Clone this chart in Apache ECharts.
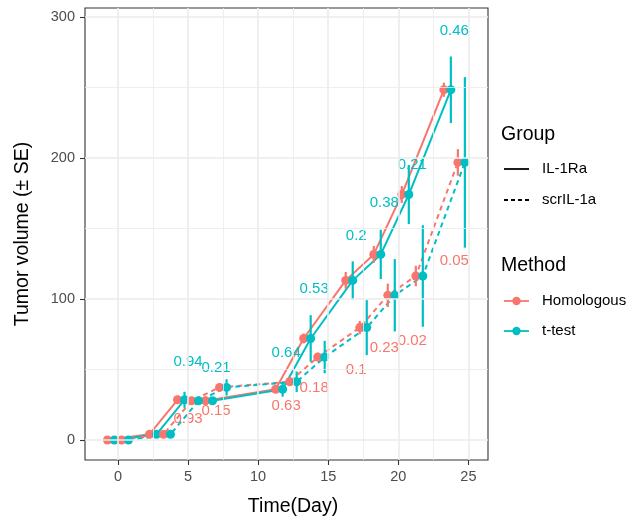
<!DOCTYPE html>
<html><head><meta charset="utf-8">
<script src="https://cdn.jsdelivr.net/npm/echarts@6/dist/echarts.min.js"></script>
<style>html,body{margin:0;padding:0;background:#fff}#c{width:634px;height:522px}</style>
</head><body><div id="c"></div>
<script>
// ---- data ----
const days = [0, 3, 5, 7, 12, 14, 17, 19, 21, 24];
const meanIL1Ra = [0, 4, 28.5, 27.8, 36, 72, 113.2, 131.6, 174.1, 248.4];
const meanScrIL1a = [0, 4, 27.8, 37.3, 41.3, 58.8, 79.7, 102.6, 116.3, 196.9];
const seIL1RaHomologous = [0, 0.5, 3, 2, 2, 3.5, 6, 6, 6, 5];
const seIL1RaTtest = [0, 1, 5.7, 2.5, 5.3, 16.5, 13.5, 17.5, 21, 23.6];
const seScrHomologous = [0, 0.5, 2, 3, 3, 3, 4.7, 8.3, 7.3, 9.4];
const seScrTtest = [0, 2.5, 2, 5.8, 7.3, 11.5, 19.5, 25.7, 36, 60.5];
const pDays = [5, 7, 12, 14, 17, 19, 21, 24];
const pTtest = ['0.94', '0.21', '0.64', '0.53', '0.2', '0.38', '0.21', '0.46'];
const pTtestY = [55.2, 51, 62, 107.3, 145, 168.2, 195.3, 290.3];
const pHomologous = ['0.93', '0.15', '0.63', '0.18', '0.1', '0.23', '0.02', '0.05'];
const pHomologousY = [14.9, 20.7, 24.3, 37.3, 49.5, 65.6, 70.3, 126.9];
const xTicks = [0, 5, 10, 15, 20, 25];
const yTicks = [0, 100, 200, 300];
const xMinor = [-2.5, 2.5, 7.5, 12.5, 17.5, 22.5];
const yMinor = [50, 150, 250];
const groups = ['IL-1Ra', 'scrIL-1a'];
const methods = ['Homologous', 't-test'];

// ---- styling ----
const RED = '#F8766D', CYAN = '#00BFC4';
const FONT = '"Liberation Sans", Arial, Helvetica, sans-serif';
const dodgeWidth = 2;

const combos = [
  { group: groups[0], method: methods[0], mean: meanIL1Ra, se: seIL1RaHomologous, color: RED, dashed: false },
  { group: groups[0], method: methods[1], mean: meanIL1Ra, se: seIL1RaTtest, color: CYAN, dashed: false },
  { group: groups[1], method: methods[0], mean: meanScrIL1a, se: seScrHomologous, color: RED, dashed: true },
  { group: groups[1], method: methods[1], mean: meanScrIL1a, se: seScrTtest, color: CYAN, dashed: true }
];
combos.forEach((c, i) => { c.off = (i - (combos.length - 1) / 2) * dodgeWidth / combos.length; });

const series = [];
// grid lines
series.push({
  type: 'line', data: [], silent: true, z: 1,
  markLine: {
    silent: true, symbol: ['none', 'none'], label: { show: false }, animation: false,
    lineStyle: { color: '#EBEBEB', width: 0.8, type: 'solid' },
    emphasis: { disabled: true },
    data: xMinor.map(v => ({ xAxis: v })).concat(yMinor.map(v => ({ yAxis: v })))
  }
});
series.push({
  type: 'line', data: [], silent: true, z: 1,
  markLine: {
    silent: true, symbol: ['none', 'none'], label: { show: false }, animation: false,
    lineStyle: { color: '#EBEBEB', width: 1.6, type: 'solid' },
    emphasis: { disabled: true },
    data: xTicks.map(v => ({ xAxis: v })).concat(yTicks.map(v => ({ yAxis: v })))
  }
});
// lines
combos.forEach(c => {
  series.push({
    type: 'line', z: 2, symbol: 'none', silent: true,
    data: days.map((d, i) => [d + c.off, c.mean[i]]),
    lineStyle: { color: c.color, width: 2, type: c.dashed ? [5, 4] : 'solid' }
  });
});
// ranges + points
combos.forEach(c => {
  series.push({
    type: 'custom', z: 3, silent: true,
    data: days.map((d, i) => [d + c.off, c.mean[i] - c.se[i], c.mean[i] + c.se[i]]),
    encode: { x: 0, y: [1, 2] },
    renderItem: (params, api) => {
      const a = api.coord([api.value(0), api.value(1)]);
      const b = api.coord([api.value(0), api.value(2)]);
      return { type: 'line', shape: { x1: a[0], y1: a[1], x2: b[0], y2: b[1] }, style: { stroke: c.color, lineWidth: 2.2 } };
    }
  });
  series.push({
    type: 'scatter', z: 3, silent: true, symbol: 'circle', symbolSize: 9,
    data: days.map((d, i) => [d + c.off, c.mean[i]]),
    itemStyle: { color: c.color, opacity: 1 }
  });
});
// p-value labels
function textSeries(vals, ys, color) {
  return {
    type: 'custom', z: 4, silent: true, clip: false,
    data: pDays.map((d, i) => [d, ys[i], i]),
    encode: { x: 0, y: 1 },
    renderItem: (params, api) => {
      const p = api.coord([api.value(0), api.value(1)]);
      return { type: 'text', x: p[0], y: p[1], style: { text: vals[api.value(2)], fill: color, font: '15px ' + FONT, align: 'center', verticalAlign: 'middle' } };
    }
  };
}
series.push(textSeries(pTtest, pTtestY, CYAN));
series.push(textSeries(pHomologous, pHomologousY, RED));

// legend drawn as graphics
const LX = 504, LW = 25, TX = 542;
const legendG = [
  { type: 'text', x: 501, y: 135, style: { text: 'Group', font: '19.5px ' + FONT, fill: '#000', verticalAlign: 'middle' } },
  { type: 'line', shape: { x1: LX, y1: 169, x2: LX + LW, y2: 169 }, style: { stroke: '#000', lineWidth: 1.8 } },
  { type: 'text', x: TX, y: 169, style: { text: groups[0], font: '15px ' + FONT, fill: '#000', verticalAlign: 'middle' } },
  { type: 'line', shape: { x1: LX, y1: 200, x2: LX + LW, y2: 200 }, style: { stroke: '#000', lineWidth: 1.8, lineDash: [4, 3] } },
  { type: 'text', x: TX, y: 200, style: { text: groups[1], font: '15px ' + FONT, fill: '#000', verticalAlign: 'middle' } },
  { type: 'text', x: 501, y: 266, style: { text: 'Method', font: '19.5px ' + FONT, fill: '#000', verticalAlign: 'middle' } },
  { type: 'line', shape: { x1: LX, y1: 301, x2: LX + LW, y2: 301 }, style: { stroke: RED, lineWidth: 1.8 } },
  { type: 'circle', shape: { cx: LX + LW / 2, cy: 301, r: 4.2 }, style: { fill: RED } },
  { type: 'text', x: TX, y: 301, style: { text: methods[0], font: '15px ' + FONT, fill: '#000', verticalAlign: 'middle' } },
  { type: 'line', shape: { x1: LX, y1: 331, x2: LX + LW, y2: 331 }, style: { stroke: CYAN, lineWidth: 1.8 } },
  { type: 'circle', shape: { cx: LX + LW / 2, cy: 331, r: 4.2 }, style: { fill: CYAN } },
  { type: 'text', x: TX, y: 331, style: { text: methods[1], font: '15px ' + FONT, fill: '#000', verticalAlign: 'middle' } }
];

const chart = echarts.init(document.getElementById('c'), null, { renderer: 'canvas' });
chart.setOption({
  animation: false,
  backgroundColor: '#fff',
  textStyle: { fontFamily: FONT },
  grid: { left: 85, right: 146, top: 8, bottom: 61, show: true, borderColor: '#333333', borderWidth: 1.1, backgroundColor: '#fff', containLabel: false },
  xAxis: {
    type: 'value', min: -2.35, max: 26.4, position: 'bottom',
    name: 'Time(Day)', nameLocation: 'middle', nameGap: 37,
    nameTextStyle: { fontSize: 19.5, color: '#000', fontFamily: FONT, padding: [0, 0, 0, 13] },
    axisLine: { show: false, onZero: false },
    axisTick: { show: true, length: 5, customValues: xTicks, lineStyle: { color: '#333333', width: 1.1 } },
    axisLabel: { customValues: xTicks, margin: 9.5, fontSize: 14.5, color: '#4D4D4D', fontFamily: FONT },
    splitLine: { show: false }, minorSplitLine: { show: false }
  },
  yAxis: {
    type: 'value', min: -14.2, max: 306.4, position: 'left',
    name: 'Tumor volume (± SE)', nameLocation: 'middle', nameGap: 52,
    nameTextStyle: { fontSize: 19.5, color: '#000', fontFamily: FONT },
    axisLine: { show: false, onZero: false },
    axisTick: { show: true, length: 5, customValues: yTicks, lineStyle: { color: '#333333', width: 1.1 } },
    axisLabel: { customValues: yTicks, margin: 10, fontSize: 14.5, color: '#4D4D4D', fontFamily: FONT },
    splitLine: { show: false }
  },
  graphic: legendG,
  series: series
});
</script>
</body></html>
